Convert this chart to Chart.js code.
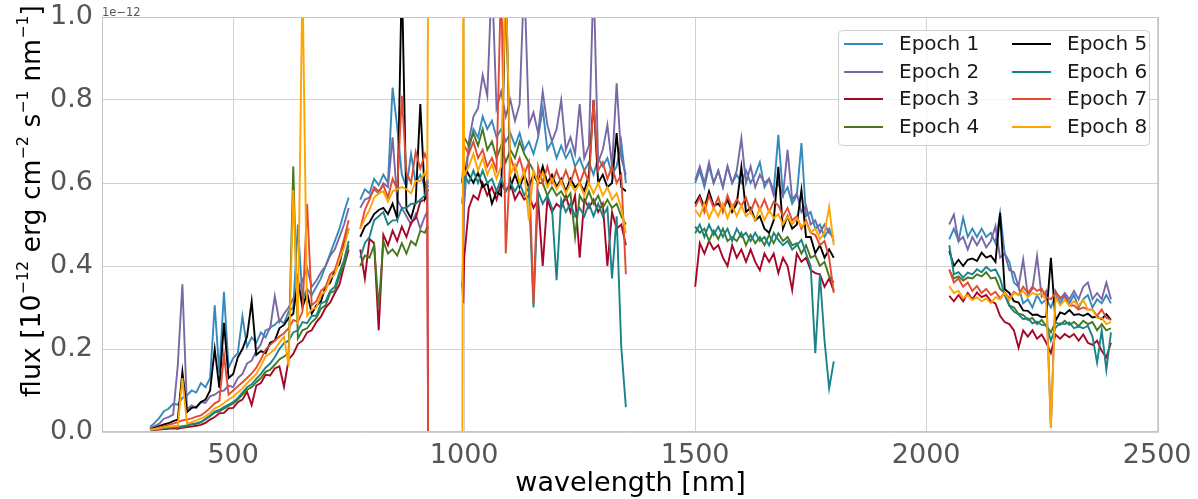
<!DOCTYPE html>
<html>
<head>
<meta charset="utf-8">
<script src="https://cdn.jsdelivr.net/npm/chart.js@4.4.1/dist/chart.umd.min.js"></script>
<style>
  html, body { margin: 0; padding: 0; background: #fff; }
  #wrap { width: 1198px; height: 499px; }
</style>
</head>
<body>
<div id="wrap"><canvas id="spec" width="1198" height="499"></canvas></div>
<script>
// wavelength grid [nm], five pieces: 320-750, 775-922, 996-1350, 1500-1800, 2050-2400
const wavelength = [
  320,330,340,350,360,370,380,390,400,410,420,430,440,450,460,470,480,490,500,510,
  520,530,540,550,560,570,580,590,600,610,620,630,640,650,660,670,680,690,700,710,
  720,730,740,750,
  775,785,795,805,815,825,835,845,855,865,875,885,895,905,915,920,922,
  996,998,1000,1010,1020,1030,1040,1050,1060,1070,1080,1090,1100,1110,1120,1130,1140,1150,
  1160,1170,1180,1190,1200,1210,1220,1230,1240,1250,1260,1270,1280,1290,1300,1310,1320,1330,1340,1350,
  1500,1510,1520,1530,1540,1550,1560,1570,1580,1590,1600,1610,1620,1630,1640,1650,1660,1670,1680,1690,
  1700,1710,1720,1730,1740,1750,1760,1770,1780,1790,1800,
  2050,2060,2070,2080,2090,2100,2110,2120,2130,2140,2150,2160,2170,2180,2190,2200,2210,2220,2230,2240,
  2250,2260,2270,2280,2290,2300,2310,2320,2330,2340,2350,2360,2370,2380,2390,2400
];

const epochNames = ['Epoch 1','Epoch 2','Epoch 3','Epoch 4','Epoch 5','Epoch 6','Epoch 7','Epoch 8'];
const epochColors = ['#348ABD','#7A68A6','#A60628','#467821','#000000','#188487','#E24A33','#FFA500'];

// flux in units of 1e-12 erg cm-2 s-1 nm-1
const epoch1 = [
  0.012,0.022,0.034,0.05,0.056,0.068,0.066,0.082,0.088,0.1, 0.095,0.118,0.108,0.13,0.305,0.142,0.338,0.155,0.178,0.19,
  0.279,0.205,0.228,0.215,0.24,0.228,0.252,0.258,0.27,0.262, 0.29,0.3,0.5,0.32,0.345,0.33,0.35,0.37,0.4,0.43,
  0.46,0.49,0.53,0.565,
  0.56,0.585,0.575,0.61,0.595,0.62,0.6,0.83,0.735,0.62,0.59,0.67,0.6,0.62,0.59,0.61,0.6,
  0.55,0.58,0.62, 0.68,0.73,0.71,0.76,0.73,0.75,0.71,0.73,0.7,0.72, 0.69,0.72,0.68,0.7,0.67,0.71,0.78,0.68,0.7,0.66,
  0.69,0.66,0.68,0.64,0.66,0.63,0.65,0.62,0.66,0.64, 0.66,0.62,0.64,0.7,0.6,
  0.6,0.63,0.59,0.64,0.6,0.63,0.59,0.64,0.6,0.62, 0.6,0.63,0.6,0.62,0.65,0.59,0.61,0.58,0.716,0.57,
  0.59,0.55,0.57,0.696,0.52,0.53,0.49,0.5,0.47,0.49, 0.46,
  0.464,0.49,0.46,0.516,0.47,0.49,0.47,0.49,0.47,0.48, 0.455,0.528,0.43,0.41,0.36,0.35,0.31,0.32,0.3,0.33,
  0.31,0.32,0.3,0.33,0.31,0.33,0.31,0.33,0.3,0.32, 0.33,0.3,0.32,0.31,0.33,0.31
];
const epoch2 = [
  0.008,0.014,0.02,0.032,0.036,0.042,0.16,0.356,0.055,0.064, 0.058,0.072,0.07,0.086,0.09,0.098,0.1,0.112,0.108,0.13,
  0.14,0.165,0.172,0.195,0.212,0.245,0.25,0.327,0.265,0.285, 0.3,0.322,0.34,0.365,0.395,0.35,0.365,0.385,0.4,0.425,
  0.44,0.47,0.5,0.54,
  0.54,0.56,0.565,0.585,0.575,0.6,0.59,0.71,0.56,0.54,0.52,0.5,0.525,0.49,0.52,0.53,0.53,
  0.35,0.45,0.55, 0.7,0.76,0.78,0.86,0.81,1.1,0.78,0.82,0.76,0.8, 0.75,0.79,1.1,0.74,0.77,0.72,0.82,0.74,0.7,0.73,
  0.8,0.68,0.71,0.67,0.79,0.66,0.69,1.1,0.65,0.68, 0.74,0.64,0.84,0.66,0.62,
  0.607,0.64,0.6,0.65,0.6,0.63,0.59,0.64,0.6,0.63, 0.708,0.6,0.64,0.59,0.62,0.6,0.61,0.57,0.6,0.57,
  0.68,0.56,0.575,0.53,0.545,0.5,0.51,0.48,0.5,0.48, 0.47,
  0.5,0.524,0.46,0.47,0.44,0.47,0.45,0.47,0.445,0.46, 0.496,0.42,0.43,0.39,0.385,0.35,0.416,0.33,0.345,0.424,
  0.326,0.34,0.01,0.34,0.32,0.335,0.32,0.34,0.32,0.35, 0.36,0.32,0.335,0.32,0.36,0.32
];
const epoch3 = [
  0.004,0.005,0.006,0.007,0.008,0.009,0.008,0.01,0.012,0.013, 0.015,0.017,0.022,0.03,0.036,0.045,0.046,0.057,0.058,0.072,
  0.078,0.097,0.065,0.112,0.118,0.138,0.136,0.153,0.158,0.109, 0.175,0.188,0.212,0.22,0.24,0.245,0.265,0.278,0.3,0.312,
  0.335,0.355,0.4,0.44,
  0.44,0.37,0.465,0.455,0.245,0.475,0.45,0.485,0.46,0.495,0.47,0.505,0.515,0.555,0.56,0.57,-0.05,
  0.36,0.31,0.42, 0.54,0.57,0.56,0.6,0.57,0.59,0.56,0.6,0.58,0.6, 0.56,0.58,0.56,0.57,0.54,0.56,0.4,0.56,0.53,0.55,
  0.54,0.57,0.53,0.57,0.42,0.56,0.54,0.56,0.53,0.55, 0.4,0.53,0.49,0.5,0.45,
  0.35,0.455,0.43,0.46,0.44,0.45,0.42,0.4,0.45,0.42, 0.44,0.41,0.44,0.41,0.39,0.43,0.41,0.43,0.383,0.42,
  0.4,0.342,0.43,0.41,0.42,0.39,0.383,0.38,0.35,0.37, 0.34,
  0.328,0.315,0.33,0.315,0.335,0.32,0.336,0.325,0.33,0.315, 0.31,0.28,0.265,0.26,0.245,0.203,0.245,0.23,0.245,0.225,
  0.235,0.215,0.19,0.235,0.225,0.236,0.228,0.236,0.22,0.235, 0.215,0.21,0.22,0.195,0.18,0.215
];
const epoch4 = [
  0.005,0.006,0.008,0.009,0.01,0.012,0.011,0.012,0.015,0.018, 0.02,0.023,0.03,0.038,0.047,0.05,0.056,0.063,0.069,0.078,
  0.09,0.102,0.108,0.12,0.13,0.145,0.15,0.162,0.175,0.182, 0.19,0.64,0.225,0.245,0.25,0.265,0.275,0.298,0.305,0.335,
  0.34,0.375,0.405,0.45,
  0.4,0.425,0.42,0.45,0.3,0.46,0.43,0.44,0.425,0.455,0.43,0.46,0.45,0.485,0.48,0.495,0.49,
  0.6,0.65,0.71, 0.69,0.72,0.69,0.73,0.68,0.7,0.66,0.69,0.65,0.68, 0.66,0.7,0.67,0.65,0.63,0.6,0.6,0.57,0.59,0.57,
  0.58,0.56,0.575,0.47,0.57,0.55,0.58,0.55,0.57,0.54, 0.56,0.54,0.55,0.52,0.5,
  0.495,0.48,0.49,0.46,0.485,0.465,0.49,0.46,0.47,0.46, 0.48,0.45,0.475,0.455,0.47,0.45,0.475,0.455,0.479,0.46,
  0.47,0.45,0.455,0.43,0.45,0.42,0.425,0.4,0.41,0.375, 0.36,
  0.39,0.37,0.375,0.365,0.372,0.37,0.38,0.375,0.385,0.37, 0.372,0.345,0.335,0.305,0.3,0.285,0.282,0.27,0.275,0.26,
  0.27,0.255,0.24,0.265,0.258,0.268,0.258,0.265,0.255,0.268, 0.26,0.265,0.245,0.26,0.245,0.25
];
const epoch5 = [
  0.006,0.01,0.014,0.018,0.021,0.026,0.03,0.145,0.048,0.058, 0.06,0.072,0.078,0.1,0.2,0.106,0.263,0.13,0.14,0.18,
  0.2,0.23,0.315,0.186,0.195,0.19,0.215,0.22,0.25,0.258, 0.275,0.285,0.368,0.3,0.335,0.285,0.305,0.315,0.35,0.36,
  0.39,0.405,0.455,0.49,
  0.47,0.495,0.505,0.525,0.535,0.54,0.525,0.55,0.515,1.1,0.535,0.515,0.555,0.79,0.565,0.585,0.58,
  0.6,0.62,0.64, 0.62,0.6,0.625,0.59,0.6,0.55,0.58,0.57,1.1,0.59, 0.62,0.59,0.62,0.59,0.62,0.6,0.64,0.6,0.62,0.59,
  0.61,0.58,0.61,0.59,0.6,0.58,0.62,0.8,0.6,0.62, 0.59,0.6,0.72,0.59,0.58,
  0.55,0.57,0.54,0.58,0.545,0.55,0.535,0.56,0.53,0.55, 0.639,0.53,0.54,0.51,0.52,0.49,0.48,0.51,0.639,0.49,
  0.52,0.49,0.5,0.583,0.47,0.47,0.431,0.45,0.42,0.44, 0.42,
  0.436,0.4,0.415,0.4,0.415,0.418,0.412,0.432,0.42,0.425, 0.41,0.528,0.344,0.335,0.315,0.312,0.293,0.292,0.282,0.283,
  0.277,0.278,0.42,0.268,0.288,0.284,0.294,0.282,0.284,0.28, 0.285,0.276,0.278,0.272,0.284,0.27
];
const epoch6 = [
  0.005,0.006,0.008,0.01,0.011,0.013,0.012,0.014,0.016,0.019, 0.021,0.024,0.032,0.04,0.049,0.053,0.06,0.066,0.072,0.082,
  0.095,0.108,0.115,0.128,0.14,0.155,0.165,0.18,0.2,0.214, 0.22,0.24,0.245,0.265,0.262,0.28,0.28,0.31,0.315,0.34,
  0.35,0.385,0.415,0.46,
  0.42,0.455,0.47,0.51,0.52,0.53,0.5,0.51,0.51,0.54,0.54,0.55,0.55,0.56,0.57,0.595,0.59,
  0.55,0.58,0.62, 0.6,0.63,0.6,0.63,0.6,0.61,0.58,0.61,0.58,0.6, 0.58,0.6,0.57,0.59,0.3,0.58,0.55,0.57,0.54,0.366,
  0.56,0.53,0.55,0.52,0.54,0.52,0.55,0.52,0.55,0.52, 0.54,0.37,0.52,0.205,0.06,
  0.479,0.5,0.47,0.5,0.475,0.495,0.47,0.49,0.46,0.49, 0.47,0.48,0.46,0.48,0.46,0.47,0.45,0.48,0.463,0.45,
  0.46,0.44,0.45,0.463,0.43,0.4,0.19,0.38,0.22,0.105, 0.17,
  0.45,0.38,0.385,0.372,0.384,0.38,0.392,0.385,0.398,0.388, 0.392,0.37,0.33,0.304,0.29,0.283,0.272,0.274,0.262,0.266,
  0.258,0.257,0.22,0.252,0.262,0.26,0.264,0.25,0.254,0.25, 0.256,0.23,0.167,0.245,0.15,0.24
];
const epoch7 = [
  0.006,0.008,0.011,0.014,0.017,0.02,0.024,0.028,0.03,0.033, 0.037,0.04,0.048,0.058,0.069,0.075,0.186,0.09,0.1,0.11,
  0.12,0.13,0.141,0.155,0.175,0.198,0.21,0.22,0.23,0.238, 0.25,0.27,0.265,0.29,0.55,0.305,0.315,0.34,0.35,0.38,
  0.39,0.425,0.465,0.51,
  0.49,0.535,0.56,0.59,0.58,0.595,0.565,0.61,0.585,0.81,0.625,0.6,0.675,0.635,0.67,0.655,-0.05,
  0.6,0.64,0.69, 0.67,0.7,0.66,0.68,0.64,0.66,0.63,1.1,0.43,0.663, 0.63,0.66,0.62,0.65,0.31,0.64,0.6,0.64,0.6,0.63,
  0.6,0.63,0.6,0.635,0.6,0.63,0.6,0.8,0.63,0.65, 0.61,0.64,0.6,0.62,0.38,
  0.543,0.565,0.53,0.57,0.54,0.565,0.53,0.57,0.54,0.56, 0.545,0.565,0.53,0.56,0.535,0.56,0.53,0.555,0.546,0.52,
  0.54,0.51,0.52,0.49,0.51,0.48,0.475,0.45,0.46,0.42, 0.335,
  0.392,0.36,0.37,0.35,0.36,0.34,0.352,0.335,0.345,0.33, 0.338,0.322,0.336,0.322,0.338,0.33,0.35,0.335,0.35,0.34,
  0.345,0.325,0.32,0.335,0.325,0.325,0.305,0.305,0.295,0.3, 0.295,0.295,0.28,0.295,0.275,0.27
];
const epoch8 = [
  0.005,0.007,0.009,0.011,0.013,0.014,0.015,0.13,0.02,0.024, 0.028,0.032,0.038,0.046,0.057,0.062,0.07,0.078,0.085,0.095,
  0.105,0.118,0.129,0.14,0.16,0.182,0.19,0.2,0.215,0.23, 0.158,0.583,0.26,1.1,0.28,0.295,0.3,0.33,0.34,0.37,
  0.38,0.415,0.445,0.49,
  0.49,0.515,0.535,0.565,0.575,0.58,0.555,0.58,0.585,0.59,0.585,0.575,0.605,0.605,0.625,0.61,1.1,
  -0.05,1.1,0.62, 0.64,0.67,0.63,0.66,0.62,0.645,0.61,0.64,1.1,0.62, 0.645,0.6,0.63,0.51,0.63,0.6,0.625,0.59,0.61,0.585,
  0.605,0.575,0.6,0.58,0.6,0.57,0.6,0.575,0.6,0.57, 0.59,0.56,0.575,0.54,0.48,
  0.535,0.52,0.55,0.515,0.54,0.52,0.55,0.515,0.546,0.52, 0.546,0.52,0.53,0.51,0.54,0.51,0.535,0.515,0.525,0.5,
  0.519,0.5,0.515,0.495,0.505,0.48,0.49,0.465,0.48,0.543, 0.45,
  0.352,0.335,0.34,0.322,0.33,0.318,0.325,0.315,0.322,0.31, 0.325,0.32,0.335,0.318,0.335,0.33,0.34,0.325,0.335,0.33,
  0.335,0.315,0.01,0.325,0.305,0.318,0.305,0.315,0.305,0.318, 0.295,0.295,0.275,0.275,0.26,0.265
];

const xTicks = [500, 1000, 1500, 2000, 2500];
const yTicks = [0, 0.2, 0.4, 0.6, 0.8, 1.0];

const allEpochs = [epoch1, epoch2, epoch3, epoch4, epoch5, epoch6, epoch7, epoch8];
allEpochs.forEach((arr, i) => {
  if (arr.length !== wavelength.length) throw new Error(epochNames[i] + ' has ' + arr.length + ' values, expected ' + wavelength.length);
});

// break the line where the spectrum has no coverage
function toPoints(vals) {
  const out = [];
  for (let i = 0; i < wavelength.length; i++) {
    if (i > 0 && wavelength[i] - wavelength[i - 1] > 20) {
      out.push({ x: (wavelength[i] + wavelength[i - 1]) / 2, y: null });
    }
    out.push({ x: wavelength[i], y: vals[i] });
  }
  return out;
}

const FONT = 'DejaVu Sans';

// axis titles, offset text, frame and the two-column legend
const decor = {
  id: 'decor',
  afterDatasetsDraw(chart) {
    const { ctx, chartArea: a } = chart;
    ctx.save();
    ctx.strokeStyle = '#c4c4c4';
    ctx.lineWidth = 1;
    ctx.strokeRect(a.left + 0.5, a.top + 0.5, a.right - a.left - 1, a.bottom - a.top - 1);
    ctx.restore();
  },
  afterDraw(chart) {
    const { ctx, chartArea: a } = chart;
    ctx.save();

    // offset text
    ctx.fillStyle = '#555555';
    ctx.font = '11.5px "' + FONT + '"';
    ctx.textAlign = 'left';
    ctx.textBaseline = 'alphabetic';
    ctx.fillText('1e\u221212', a.left, a.top - 1);

    // x title
    ctx.fillStyle = '#000';
    ctx.font = '27px "' + FONT + '"';
    ctx.textAlign = 'center';
    ctx.fillText('wavelength [nm]', (a.left + a.right) / 2, 491);

    // y title with superscripts
    let size = 27, sup = 16;
    const runs = [
      ['flux [10', false], ['\u221212', true], [' erg cm', false], ['\u22122', true],
      [' s', false], ['\u22121', true], [' nm', false], ['\u22121', true], [']', false]
    ];
    const measure = () => {
      let t = 0;
      runs.forEach(r => {
        ctx.font = (r[1] ? sup : size) + 'px "' + FONT + '"';
        r[2] = ctx.measureText(r[0]).width;
        t += r[2];
      });
      return t;
    };
    let total = measure();
    if (total > 392) {
      const k = 392 / total;
      size *= k; sup *= k;
      total = measure();
    }
    ctx.translate(39.5, 201);
    ctx.rotate(-Math.PI / 2);
    ctx.textAlign = 'left';
    let x = -total / 2;
    runs.forEach(r => {
      ctx.font = (r[1] ? sup : size) + 'px "' + FONT + '"';
      ctx.fillText(r[0], x, r[1] ? -12 : 0);
      x += r[2];
    });
    ctx.setTransform(1, 0, 0, 1, 0, 0);

    // legend
    const bx = 838.5, by = 30.5, bw = 311, bh = 115;
    ctx.beginPath();
    ctx.roundRect(bx, by, bw, bh, 4);
    ctx.fillStyle = 'rgba(255,255,255,0.8)';
    ctx.fill();
    ctx.strokeStyle = '#cccccc';
    ctx.lineWidth = 1;
    ctx.stroke();
    const lineX = [844, 1012], textX = [899, 1067], rowY = [44, 72, 99, 127];
    ctx.font = '20px "' + FONT + '"';
    ctx.textBaseline = 'middle';
    ctx.textAlign = 'left';
    epochNames.forEach((name, i) => {
      const col = i < 4 ? 0 : 1, row = i % 4;
      ctx.strokeStyle = epochColors[i];
      ctx.lineWidth = 2;
      ctx.beginPath();
      ctx.moveTo(lineX[col], rowY[row]);
      ctx.lineTo(lineX[col] + 39, rowY[row]);
      ctx.stroke();
      ctx.fillStyle = '#1a1a1a';
      ctx.fillText(name, textX[col], rowY[row] + 1);
    });
    ctx.restore();
  }
};

const datasets = allEpochs.map((vals, i) => ({
  label: epochNames[i],
  data: toPoints(vals),
  borderColor: epochColors[i],
  borderWidth: 1.9,
  pointRadius: 0,
  tension: 0,
  fill: false,
  spanGaps: false,
  order: 8 - i
}));

new Chart(document.getElementById('spec'), {
  type: 'line',
  data: { datasets },
  options: {
    responsive: false,
    animation: false,
    layout: { padding: { left: 0, right: 39, top: 17, bottom: 0 } },
    plugins: { legend: { display: false }, tooltip: { enabled: false } },
    scales: {
      x: {
        type: 'linear',
        min: 216,
        max: 2504,
        afterBuildTicks: s => { s.ticks = xTicks.map(v => ({ value: v })); },
        afterFit: s => { s.height = 67; s.paddingLeft = 0; s.paddingRight = 0; },
        grid: { color: '#d2d2d2', lineWidth: 1, drawTicks: false },
        border: { display: false },
        ticks: {
          font: { family: FONT, size: 27 },
          color: '#555555',
          padding: 8,
          maxRotation: 0,
          autoSkip: false,
          callback: v => String(v)
        }
      },
      y: {
        min: 0,
        max: 1,
        afterBuildTicks: s => { s.ticks = yTicks.map(v => ({ value: v })); },
        afterFit: s => { s.width = 102; s.paddingTop = 0; s.paddingBottom = 0; },
        grid: { color: '#d2d2d2', lineWidth: 1, drawTicks: false },
        border: { display: false },
        ticks: {
          font: { family: FONT, size: 27 },
          color: '#555555',
          padding: 9,
          callback: v => Number(v).toFixed(1)
        }
      }
    }
  },
  plugins: [decor]
});
</script>
</body>
</html>
